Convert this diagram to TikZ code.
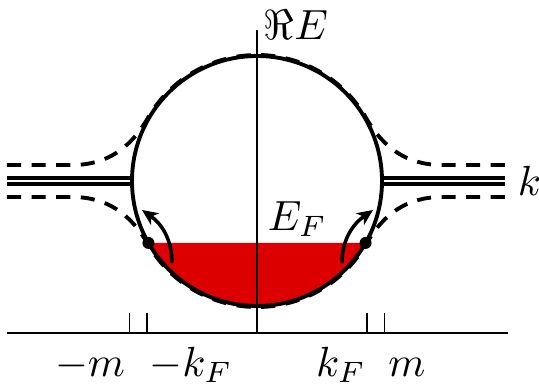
\documentclass[tikz,border=0pt]{standalone}
\usetikzlibrary{arrows.meta}
\definecolor{seared}{RGB}{220,0,0}
\begin{document}
\begin{tikzpicture}[
        lbl/.style={scale=2.4, inner sep=0pt},
        band/.style={line width=2.2pt},
        cont/.style={line width=2.2pt, dash pattern=on 8pt off 6pt},
        cut/.style={double, line width=2pt, double distance=1.4pt},
        hop/.style={line width=2pt, -{Stealth[length=9pt, width=8pt, inset=2.5pt]}},
        axis/.style={line width=0.7pt}]
        \useasboundingbox (-5.14,-4.12) rectangle (5.64,3.62);

        % Fermi sea below E_F
        \fill[seared] (209.7:2.5) arc[start angle=209.7, end angle=330.3, radius=2.5] -- cycle;

        % axes and ticks
        \draw[axis] (-5,-3.04) -- (5.02,-3.04);
        \draw[axis] (0,-3.04) -- (0,3.02);
        \node[lbl, anchor=base west] (re) at (0.12,2.82) {$\Re E$};
        \foreach \x in {-2.55,-2.2,2.2,2.55}
            \draw[axis] (\x,-3.04) -- (\x,-2.64);
        \node[lbl, anchor=base] (mL) at (-3.34,-3.9) {$-m$};
        \node[lbl, anchor=base] (kL) at (-1.32,-3.9) {$-k_F$};
        \node[lbl, anchor=base] (kR) at (1.68,-3.9) {$k_F$};
        \node[lbl, anchor=base] (mR) at (3.0,-3.9) {$m$};

        % cuts on the real axis
        \draw[cut] (-5,0) -- (-2.5,0);
        \draw[cut] (2.5,0) -- (4.96,0);
        \node[lbl, anchor=base west] (k) at (5.2,-0.28) {$k$};

        % solid contour
        \draw[band] (0,0) circle[radius=2.5];

        % deformed contours (dashed)
        \draw[cont] (-5,0.32) -- (-3.7,0.32) to[out=0, in=240] (150:2.52)
            arc[start angle=150, end angle=30, radius=2.52]
            to[out=-60, in=180] (3.7,0.32) -- (4.96,0.32);
        \draw[cont] (-5,-0.32) -- (-3.7,-0.32) to[out=0, in=120] (210:2.52)
            arc[start angle=210, end angle=330, radius=2.52]
            to[out=60, in=180] (3.7,-0.32) -- (4.96,-0.32);

        % Fermi points and excitations
        \coordinate (pL) at (209.7:2.5);
        \coordinate (pR) at (330.3:2.5);
        \fill (pL) circle[radius=0.12];
        \fill (pR) circle[radius=0.12];
        \coordinate (hL) at (-1.7,-1.64);
        \coordinate (tL) at (-2.3,-0.58);
        \coordinate (hR) at (1.7,-1.64);
        \coordinate (tR) at (2.32,-0.58);
        \draw[hop] (hL) to[out=90, in=-35] (tL);
        \draw[hop] (hR) to[out=90, in=215] (tR);
        \node[lbl, anchor=base west] (ef) at (0.2,-0.98) {$E_F$};
\end{tikzpicture}
\end{document}
